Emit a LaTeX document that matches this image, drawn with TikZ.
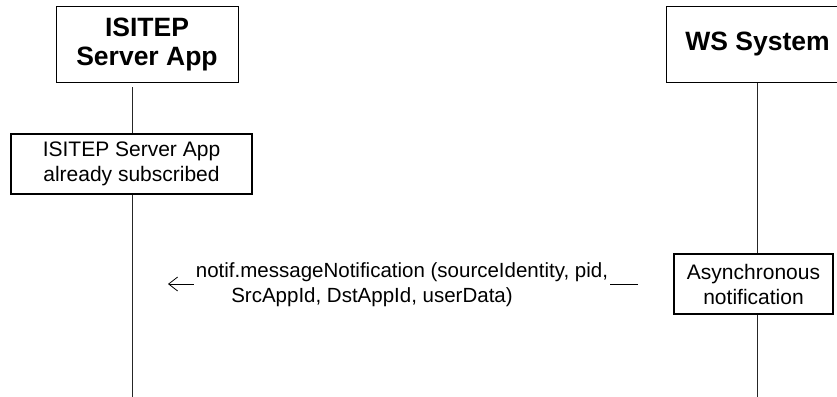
\documentclass[tikz,border=0pt]{standalone}
\usepackage{fontspec}
\setmainfont{Liberation Sans}
\usetikzlibrary{arrows.meta}
\begin{document}
\begin{tikzpicture}[x=1pt,y=-1pt,
  hdr/.style={draw, line width=0.8pt, fill=white, inner sep=0pt, align=center,
    font=\fontsize{26.5}{29}\selectfont\bfseries},
  actbox/.style={draw, line width=1.3pt, fill=white, inner sep=0pt, align=center,
    minimum height=60pt, font=\fontsize{21}{25}\selectfont},
  life/.style={line width=0.8pt, draw=black!85},
  msg/.style={line width=0.8pt, -{Straight Barb[length=9pt,width=14pt,line width=0.8pt]}},
  msgtext/.style={fill=white, inner xsep=2pt, inner ysep=0pt, align=center,
    font=\fontsize{20.5}{25}\selectfont}]
\clip (0,0) rectangle (837,396);
\fill[white] (0,0) rectangle (837,396);
% lifelines
\coordinate (lLtop) at (132,87);
\coordinate (lLbot) at (132,397);
\coordinate (lRtop) at (757,82);
\coordinate (lRbot) at (757,397);
\draw[life] (lLtop) -- (lLbot);
\draw[life] (lRtop) -- (lRbot);
% headers
\node[hdr, minimum width=182pt, minimum height=76pt] (hL) at (147,44) {ISITEP\\Server App};
\node[hdr, minimum width=183pt, minimum height=76pt] (hR) at (757.5,44) {WS System};
% activity boxes
\node[actbox, minimum width=241pt] (sub) at (131.5,164) {ISITEP Server App\\already subscribed};
\node[actbox, minimum width=159pt] (async) at (753.5,284) {Asynchronous\\notification};
% message
\coordinate (mR) at (638,284);
\coordinate (mL) at (168,284);
\draw[msg] (mR) -- (mL);
\node[msgtext] (mtext) at (402,285) {notif.messageNotification (sourceIdentity, pid,\\SrcAppId, DstAppId, userData)\hspace*{60pt}};
\end{tikzpicture}
\end{document}
